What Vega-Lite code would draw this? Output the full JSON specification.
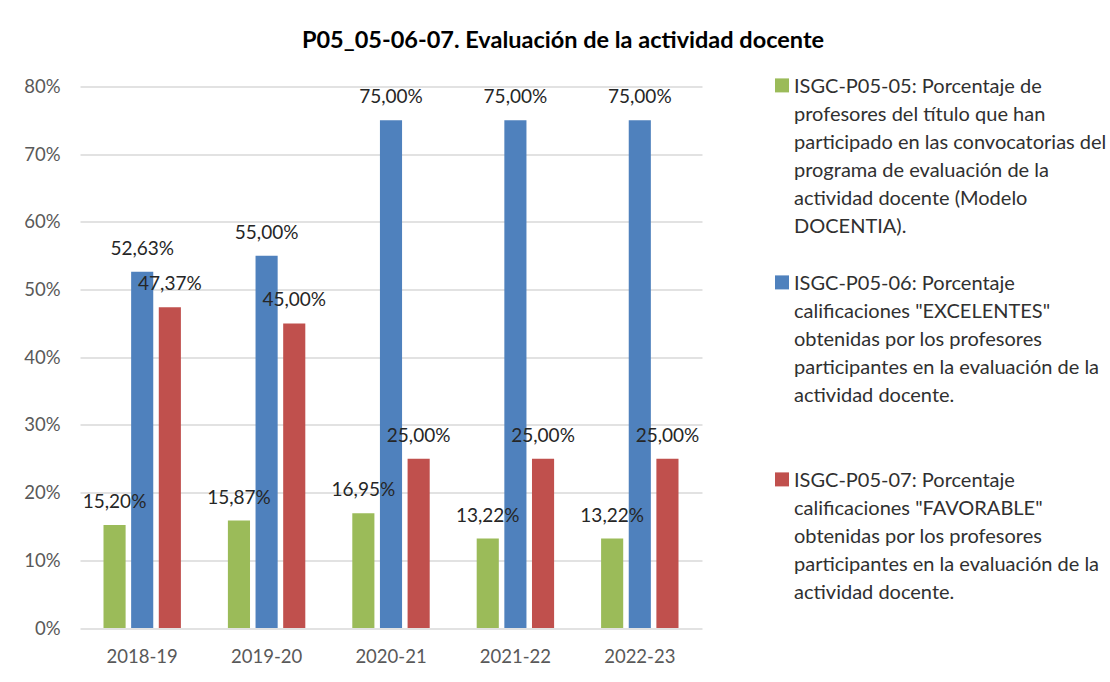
{
  "$schema": "https://vega.github.io/schema/vega-lite/v6.json",
  "width": 622,
  "height": 541.5,
  "autosize": {"type": "none"},
  "padding": {"left": 80, "top": 86.5, "right": 408, "bottom": 54},
  "background": "white",
  "title": {
    "text": "P05_05-06-07. Evaluación de la actividad docente",
    "anchor": "middle",
    "frame": "group",
    "dx": 172,
    "offset": 15,
    "font": "Lato",
    "fontSize": 23.5,
    "fontWeight": "bold",
    "color": "#000000"
  },
  "data": {
    "values": [
      {"curso": "2018-19", "serie": "P05-05", "valor": 0.1520},
      {"curso": "2018-19", "serie": "P05-06", "valor": 0.5263},
      {"curso": "2018-19", "serie": "P05-07", "valor": 0.4737},
      {"curso": "2019-20", "serie": "P05-05", "valor": 0.1587},
      {"curso": "2019-20", "serie": "P05-06", "valor": 0.5500},
      {"curso": "2019-20", "serie": "P05-07", "valor": 0.4500},
      {"curso": "2020-21", "serie": "P05-05", "valor": 0.1695},
      {"curso": "2020-21", "serie": "P05-06", "valor": 0.7500},
      {"curso": "2020-21", "serie": "P05-07", "valor": 0.2500},
      {"curso": "2021-22", "serie": "P05-05", "valor": 0.1322},
      {"curso": "2021-22", "serie": "P05-06", "valor": 0.7500},
      {"curso": "2021-22", "serie": "P05-07", "valor": 0.2500},
      {"curso": "2022-23", "serie": "P05-05", "valor": 0.1322},
      {"curso": "2022-23", "serie": "P05-06", "valor": 0.7500},
      {"curso": "2022-23", "serie": "P05-07", "valor": 0.2500}
    ]
  },
  "encoding": {
    "x": {
      "field": "curso",
      "type": "nominal",
      "sort": ["2018-19", "2019-20", "2020-21", "2021-22", "2022-23"],
      "scale": {"paddingInner": 0, "paddingOuter": 0},
      "axis": {
        "title": null,
        "labelAngle": 0,
        "ticks": false,
        "domain": false,
        "labelPadding": 19,
        "labelFont": "Lato",
        "labelFontSize": 18.5,
        "labelColor": "#595959"
      }
    },
    "xOffset": {
      "field": "serie",
      "type": "nominal",
      "scale": {"paddingInner": 0.2, "paddingOuter": 0.85}
    },
    "y": {
      "field": "valor",
      "type": "quantitative",
      "scale": {"domain": [0, 0.8]},
      "axis": {
        "title": null,
        "format": ".0%",
        "values": [0, 0.1, 0.2, 0.3, 0.4, 0.5, 0.6, 0.7, 0.8],
        "ticks": false,
        "domain": false,
        "labelPadding": 20,
        "labelFont": "Lato",
        "labelFontSize": 18.5,
        "labelColor": "#595959",
        "gridColor": "#d9d9d9",
        "gridWidth": 1.5
      }
    }
  },
  "layer": [
    {
      "mark": {"type": "bar"},
      "encoding": {
        "color": {
          "field": "serie",
          "type": "nominal",
          "scale": {
            "domain": ["P05-05", "P05-06", "P05-07"],
            "range": ["#9bbb59", "#4f81bd", "#c0504d"]
          },
          "legend": {
            "title": null,
            "orient": "none",
            "legendX": 692,
            "legendY": -19.5,
            "padding": 0,
            "rowPadding": 27,
            "symbolType": "M-1,0.2H1V2.2H-1Z",
            "symbolSize": 196,
            "symbolStrokeWidth": 0,
            "labelOffset": 2,
            "labelBaseline": "top",
            "labelFont": "Lato",
            "labelFontSize": 20,
            "labelColor": "#303030",
            "labelLimit": 600,
            "labelExpr": "datum.value == 'P05-05' ? ['ISGC-P05-05: Porcentaje de', 'profesores del título que han', 'participado en las convocatorias del', 'programa de evaluación de la', 'actividad docente (Modelo', 'DOCENTIA).'] : datum.value == 'P05-06' ? ['ISGC-P05-06: Porcentaje', 'calificaciones \"EXCELENTES\"', 'obtenidas por los profesores', 'participantes en la evaluación de la', 'actividad docente.', ' '] : ['ISGC-P05-07: Porcentaje', 'calificaciones \"FAVORABLE\"', 'obtenidas por los profesores', 'participantes en la evaluación de la', 'actividad docente.']"
          }
        }
      }
    },
    {
      "mark": {
        "type": "text",
        "baseline": "middle",
        "dy": -23,
        "font": "Lato",
        "fontSize": 19,
        "color": "#262626"
      },
      "encoding": {
        "text": {"field": "valor", "type": "quantitative", "format": ".2%"}
      }
    }
  ],
  "config": {
    "locale": {
      "number": {
        "decimal": ",",
        "thousands": ".",
        "grouping": [3],
        "currency": ["", " €"]
      }
    },
    "view": {"stroke": null},
    "style": {"guide-label": {"lineHeight": 28}}
  }
}
